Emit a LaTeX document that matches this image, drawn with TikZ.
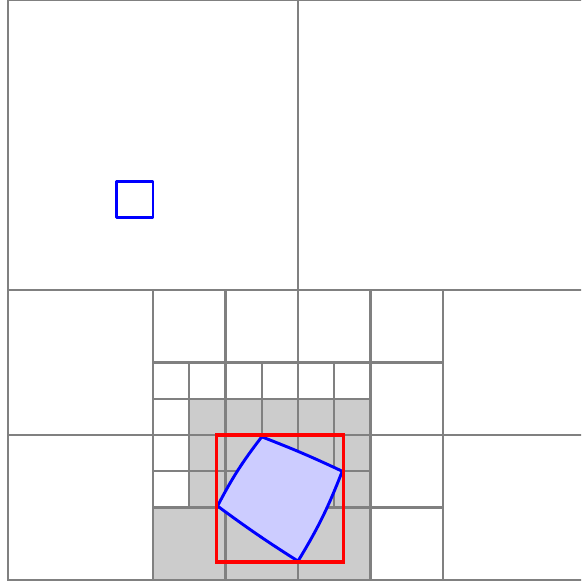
\documentclass[tikz,border=0pt]{standalone}
\begin{document}
\begin{tikzpicture}[x=1cm,y=1cm,
  gridline/.style={draw=gray, line width=1.95pt},
  cellfill/.style={fill=black!20},
  blueline/.style={draw=blue, line width=2.3pt, line join=round},
  redline/.style={draw=red, line width=2.6pt}]
\useasboundingbox (-0.2207,-0.138) rectangle (15.807,16.0);
\clip (-0.2207,-0.138) rectangle (15.807,16.0);
% gray cells
\fill[cellfill] (5,2) rectangle (10,5);
\fill[cellfill] (4,0) rectangle (10,2);
% grid
\draw[gridline] (0,0) rectangle (16,16);
\draw[gridline] (8,0) -- (8,16);
\draw[gridline] (0,8) -- (16,8);
\draw[gridline] (0,4) -- (16,4);
\draw[gridline] (4,0) -- (4,8);
\draw[gridline] (12,0) -- (12,8);
\draw[gridline] (6,0) -- (6,8);
\draw[gridline] (10,0) -- (10,8);
\draw[gridline] (4,6) -- (12,6);
\draw[gridline] (4,2) -- (12,2);
\foreach \x in {5,7,9} \draw[gridline] (\x,2) -- (\x,6);
\foreach \y in {3,5} \draw[gridline] (4,\y) -- (10,\y);
% small blue square
\draw[blueline] (3,10) rectangle (4,11);
% transformed square
\coordinate (T) at (7.0,3.95);
\coordinate (R) at (9.22,3.0);
\coordinate (B) at (8.0,0.52);
\coordinate (L) at (5.78,2.04);
\filldraw[blueline, fill=blue!20] (T) to[bend left=2] (R) to[bend left=5] (B) to[bend left=2] (L) to[bend left=5] (T) -- cycle;
% red box
\draw[redline] (5.75,0.5) rectangle (9.25,4.0);
\end{tikzpicture}
\end{document}
